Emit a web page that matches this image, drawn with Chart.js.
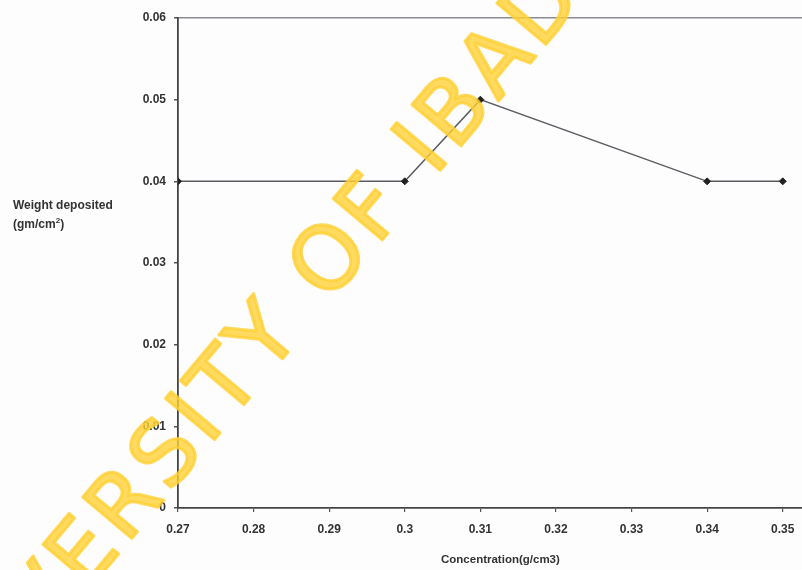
<!DOCTYPE html>
<html>
<head>
<meta charset="utf-8">
<script src="https://cdn.jsdelivr.net/npm/chart.js@4.4.0/dist/chart.umd.min.js"></script>
<style>
  html, body { margin: 0; padding: 0; background: #fdfdfe; overflow: hidden; }
  #wrap { position: relative; width: 802px; height: 570px; overflow: hidden; }
  #chart { position: absolute; left: 0; top: 0; }
  .lbl { position: absolute; font-family: "Liberation Sans", Arial, sans-serif; font-weight: bold; color: #333; white-space: nowrap; }
</style>
</head>
<body>
<div id="wrap">
  <canvas id="chart" width="880" height="570"></canvas>
  <div class="lbl" style="left:13px; top:198px; font-size:12px; line-height:15px;">Weight deposited<br>(gm/cm<sup style="font-size:8px;">2</sup>)</div>
  <div class="lbl" style="left:441px; top:553px; font-size:11.5px;">Concentration(g/cm3)</div>
</div>
<script>
// valores
const concentration = [0.27, 0.30, 0.31, 0.34, 0.35];
const weightDeposited = [0.04, 0.04, 0.05, 0.04, 0.04];
const xTicks = [0.27, 0.28, 0.29, 0.30, 0.31, 0.32, 0.33, 0.34, 0.35, 0.36];
const yTicks = [0, 0.01, 0.02, 0.03, 0.04, 0.05, 0.06];
const watermark = 'UNIVERSITY OF IBADAN';

const fmt = v => String(Number(v.toFixed(2)));

// marca d'água por cima do gráfico, ancorada no centro da letra "O"
const watermarkPlugin = {
  id: 'watermark',
  afterDraw(chart) {
    const c = chart.ctx;
    const ls = 6;
    c.save();
    c.font = '88px "DejaVu Sans", sans-serif';
    c.letterSpacing = ls + 'px';
    const pre = c.measureText('UNIVERSITY ').width;
    const oW = c.measureText('O').width;
    c.translate(326, 257);
    c.rotate(-50 * Math.PI / 180);
    c.fillStyle = 'rgba(255, 208, 50, 0.78)';
    c.strokeStyle = 'rgba(255, 208, 50, 0.78)';
    c.lineWidth = 3;
    c.lineJoin = 'round';
    c.textAlign = 'left';
    c.textBaseline = 'alphabetic';
    const x0 = -(pre + (oW - ls) / 2);
    c.fillText(watermark, x0, 32);
    c.strokeText(watermark, x0, 32);
    c.restore();
  }
};

const ctx = document.getElementById('chart');
new Chart(ctx, {
  type: 'scatter',
  data: {
    datasets: [{
      data: concentration.map((x, i) => ({ x: x, y: weightDeposited[i] })),
      showLine: true,
      borderColor: '#5a5c60',
      borderWidth: 1.5,
      pointStyle: 'rectRot',
      pointRadius: 3.5,
      pointBackgroundColor: '#222',
      pointBorderColor: '#222',
      pointBorderWidth: 1
    }]
  },
  options: {
    responsive: false,
    animation: false,
    layout: { padding: { top: 18, right: 15, left: 0, bottom: 0 } },
    plugins: {
      legend: { display: false },
      tooltip: { enabled: false }
    },
    scales: {
      x: {
        type: 'linear',
        min: 0.27,
        max: 0.36,
        afterBuildTicks: s => { s.ticks = xTicks.map(v => ({ value: v })); },
        afterFit: s => { s.height = 62; },
        ticks: {
          color: '#333',
          font: { family: '"Liberation Sans", Arial, sans-serif', size: 12, weight: 'bold' },
          padding: 10,
          maxRotation: 0,
          autoSkip: false,
          callback: v => fmt(v)
        },
        grid: { drawOnChartArea: false, tickLength: 4, tickColor: '#555', lineWidth: 1.2 },
        border: { color: '#444', width: 1.8 }
      },
      y: {
        min: 0,
        max: 0.06,
        afterBuildTicks: s => { s.ticks = yTicks.map(v => ({ value: v })); },
        afterFit: s => { s.width = 178; },
        ticks: {
          color: '#333',
          font: { family: '"Liberation Sans", Arial, sans-serif', size: 12, weight: 'bold' },
          padding: 8,
          callback: v => fmt(v)
        },
        grid: {
          tickLength: 4,
          tickColor: '#555',
          lineWidth: 1.5,
          color: c => (c.tick && c.tick.value === 0.06) ? '#8a8c92' : 'rgba(0,0,0,0)'
        },
        border: { color: '#444', width: 1.8 }
      }
    }
  },
  plugins: [watermarkPlugin]
});
</script>
</body>
</html>
